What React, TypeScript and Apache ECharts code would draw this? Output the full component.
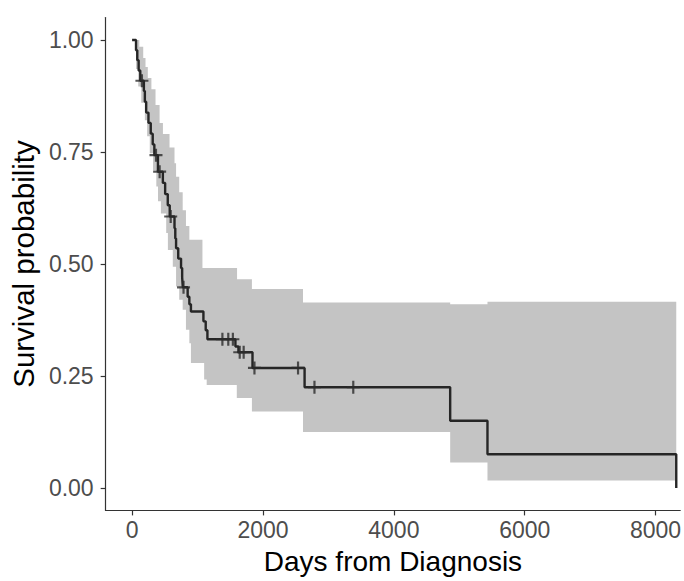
import React, { useEffect, useRef } from "react";
import * as echarts from "echarts";

// ---- data ----
const xTicks = [0, 2000, 4000, 6000, 8000];
const yTicks = [0, 0.25, 0.5, 0.75, 1];

// Kaplan-Meier steps: time (days) and survival after the event at that time
const survTimes = [0, 60, 79, 100, 125, 180, 195, 215, 250, 285, 315, 340, 395, 470, 505, 545, 575, 648, 660, 672, 705, 748, 765, 775, 849, 875, 899, 1090, 1125, 1151, 1579, 1625, 1840, 2636, 4861, 5431, 8316];
const survProb = [1, 0.977, 0.955, 0.932, 0.909, 0.886, 0.862, 0.838, 0.815, 0.791, 0.767, 0.743, 0.706, 0.681, 0.656, 0.631, 0.606, 0.58, 0.557, 0.535, 0.512, 0.491, 0.47, 0.448, 0.427, 0.41, 0.394, 0.372, 0.352, 0.332, 0.316, 0.303, 0.268, 0.225, 0.15, 0.0755, 0];

// censored observations (times)
const censorTimes = [150, 365, 421, 590, 786, 1380, 1470, 1540, 1645, 1705, 1870, 2536, 2787, 3380];

// confidence band (step functions)
const lowerTimes = [0, 60, 94, 140, 195, 230, 270, 320, 370, 396, 440, 521, 547, 622, 672, 720, 773, 823, 875, 899, 1101, 1140, 1600, 1831, 2612, 4861, 5431];
const lowerProb = [1, 0.935, 0.896, 0.86, 0.821, 0.785, 0.747, 0.71, 0.673, 0.64, 0.613, 0.569, 0.531, 0.494, 0.45, 0.42, 0.398, 0.353, 0.323, 0.279, 0.242, 0.23, 0.201, 0.171, 0.125, 0.057, 0.017];
const upperTimes = [0, 110, 170, 205, 240, 295, 358, 420, 471, 572, 648, 672, 720, 773, 823, 875, 1075, 1604, 1831, 2612, 4861, 5431];
const upperProb = [1, 0.985, 0.96, 0.94, 0.915, 0.89, 0.855, 0.815, 0.79, 0.76, 0.725, 0.695, 0.66, 0.62, 0.585, 0.554, 0.491, 0.466, 0.444, 0.414, 0.41, 0.416];
const lastTime = 8316;

const FONT = "'Liberation Sans', Arial, Helvetica, sans-serif";

function survivalAt(t: number): number {
  let v = survProb[0];
  for (let i = 0; i < survTimes.length; i++) {
    if (survTimes[i] <= t) v = survProb[i];
  }
  return v;
}

function stepPoints(times: number[], vals: number[], end: number): number[][] {
  const pts: number[][] = [[times[0], vals[0]]];
  for (let i = 1; i < times.length; i++) {
    pts.push([times[i], vals[i - 1]]);
    pts.push([times[i], vals[i]]);
  }
  pts.push([end, vals[vals.length - 1]]);
  return pts;
}

export default function App() {
  const ref = useRef<HTMLDivElement>(null);

  useEffect(() => {
    if (!ref.current) return;
    const chart = echarts.init(ref.current, undefined, { renderer: "svg" });

    const upperPts = stepPoints(upperTimes, upperProb, lastTime);
    const lowerPts = stepPoints(lowerTimes, lowerProb, lastTime).reverse();
    const bandPts = upperPts.concat(lowerPts);

    const plus = "path://M5.4,0H7.6V5.4H13V7.6H7.6V13H5.4V7.6H0V5.4H5.4Z";

    chart.setOption({
      animation: false,
      backgroundColor: "#ffffff",
      grid: { left: 102, right: 0, top: 17.6, bottom: 70.6, containLabel: false },
      xAxis: {
        type: "value",
        min: -404,
        max: 8377,
        splitLine: { show: false },
        axisLine: { show: true, onZero: false, lineStyle: { color: "#333333", width: 1.2 } },
        axisTick: { show: true, length: 5, customValues: xTicks, lineStyle: { color: "#333333", width: 1.2 } },
        axisLabel: {
          customValues: xTicks,
          formatter: (v: number) => String(Math.round(v)),
          fontSize: 23,
          color: "#4d4d4d",
          fontFamily: FONT,
          margin: 8,
        },
        name: "Days from Diagnosis",
        nameLocation: "middle",
        nameGap: 37,
        nameTextStyle: { fontSize: 28, color: "#000000", fontFamily: FONT },
      },
      yAxis: {
        type: "value",
        min: -0.05,
        max: 1.05,
        splitLine: { show: false },
        axisLine: { show: true, onZero: false, lineStyle: { color: "#333333", width: 1.2 } },
        axisTick: { show: true, length: 5, customValues: yTicks, lineStyle: { color: "#333333", width: 1.2 } },
        axisLabel: {
          customValues: yTicks,
          formatter: (v: number) => v.toFixed(2),
          fontSize: 23,
          color: "#4d4d4d",
          fontFamily: FONT,
          margin: 12,
        },
        name: "Survival probability",
        nameLocation: "middle",
        nameGap: 61,
        nameTextStyle: { fontSize: 29.5, color: "#000000", fontFamily: FONT },
      },
      series: [
        {
          type: "custom",
          coordinateSystem: "cartesian2d",
          silent: true,
          z: 1,
          data: [[0, 0]],
          renderItem: (params: any, api: any) => ({
            type: "polygon",
            shape: { points: bandPts.map((p) => api.coord(p)) },
            style: { fill: "#c4c4c4", stroke: "none" },
          }),
        },
        {
          type: "line",
          step: "end",
          z: 3,
          showSymbol: false,
          silent: true,
          data: survTimes.map((t, i) => [t, survProb[i]]),
          lineStyle: { color: "#262626", width: 2.4 },
        },
        {
          type: "scatter",
          z: 4,
          silent: true,
          symbol: plus,
          symbolSize: 13,
          itemStyle: { color: "#2a2a2a" },
          data: censorTimes.map((t) => [t, survivalAt(t)]),
        },
      ],
    });

    return () => chart.dispose();
  }, []);

  return (
    <div
      ref={ref}
      style={{ position: "fixed", left: 0, top: 0, width: 684, height: 581, background: "#fff" }}
    />
  );
}
